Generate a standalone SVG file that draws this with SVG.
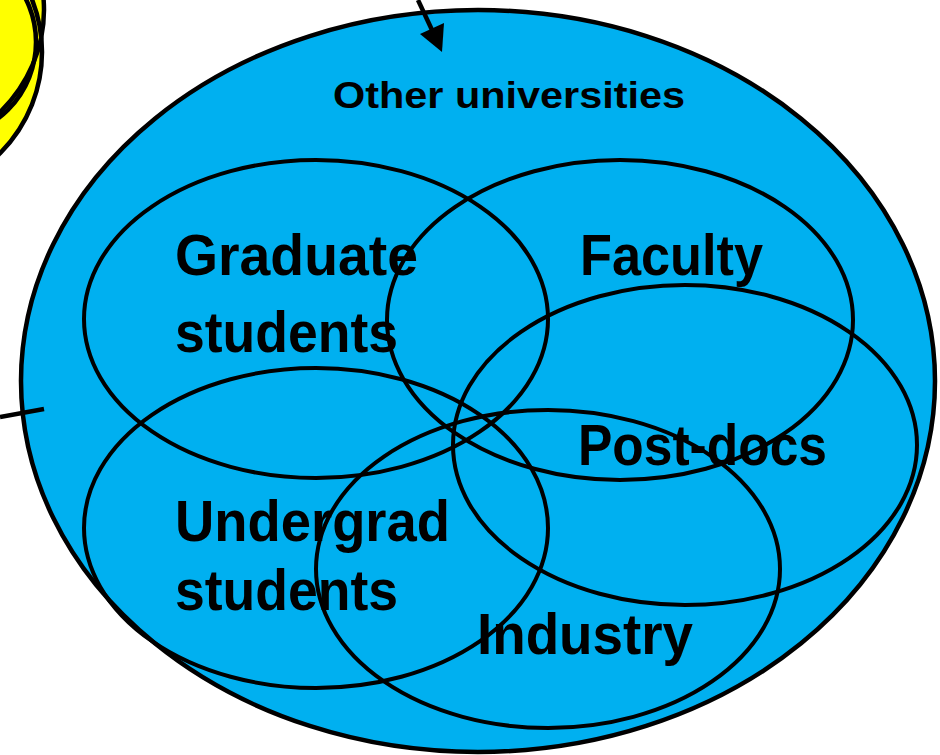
<svg xmlns="http://www.w3.org/2000/svg" width="940" height="755" viewBox="0 0 940 755">
<style>
.y{fill:#FFFF00;stroke:none}
.ys{fill:none;stroke:#000;stroke-width:4.5}
.set{fill:none;stroke:#000;stroke-width:4}
.big{font-family:"Liberation Sans",Arial,sans-serif;font-weight:bold;font-size:57px;fill:#000}
.lbl{font-family:"Liberation Sans",Arial,sans-serif;font-weight:bold;font-size:37px;fill:#000}
.conn{stroke:#000;stroke-width:4.5;fill:none}
</style>
<rect width="940" height="755" fill="#fff"/>
<g id="yellow">
<ellipse class="y" cx="-120" cy="10" rx="164" ry="150"/>
<circle class="y" cx="-101" cy="52" r="143"/>
<circle class="y" cx="-60" cy="42" r="96"/>
<ellipse class="ys" cx="-120" cy="10" rx="164" ry="150"/>
<circle class="ys" cx="-101" cy="52" r="143"/>
<circle class="ys" cx="-60" cy="42" r="96"/>
</g>
<g id="other-universities">
<ellipse cx="478" cy="381" rx="457" ry="371" fill="#00B0F0" stroke="#000" stroke-width="4.5"/>
<text class="lbl" x="333" y="108" textLength="352" lengthAdjust="spacingAndGlyphs">Other universities</text>
</g>
<g id="graduate">
<ellipse class="set" cx="316" cy="319" rx="232" ry="159"/>
</g>
<g id="faculty">
<ellipse class="set" cx="620" cy="320" rx="233" ry="160"/>
</g>
<g id="postdocs">
<ellipse class="set" cx="685" cy="445" rx="232" ry="160"/>
</g>
<g id="undergrad">
<ellipse class="set" cx="316" cy="528" rx="232" ry="160"/>
</g>
<g id="industry">
<ellipse class="set" cx="548" cy="569" rx="232" ry="159"/>
</g>
<g id="labels">
<text class="big" x="175" y="275" textLength="243" lengthAdjust="spacingAndGlyphs">Graduate</text>
<text class="big" x="175" y="352" textLength="223" lengthAdjust="spacingAndGlyphs">students</text>
<text class="big" x="580" y="275" textLength="183" lengthAdjust="spacingAndGlyphs">Faculty</text>
<text class="big" x="578" y="465" textLength="249" lengthAdjust="spacingAndGlyphs">Post-docs</text>
<text class="big" x="175" y="541" textLength="275" lengthAdjust="spacingAndGlyphs">Undergrad</text>
<text class="big" x="175" y="610" textLength="223" lengthAdjust="spacingAndGlyphs">students</text>
<text class="big" x="477" y="654" textLength="216" lengthAdjust="spacingAndGlyphs">Industry</text>
</g>
<g id="connectors">
<line class="conn" x1="418" y1="0" x2="432" y2="30"/>
<path d="M442,52 L420,34 L444,23 Z" fill="#000"/>
<line class="conn" x1="0" y1="417" x2="44" y2="409"/>
</g>
</svg>
